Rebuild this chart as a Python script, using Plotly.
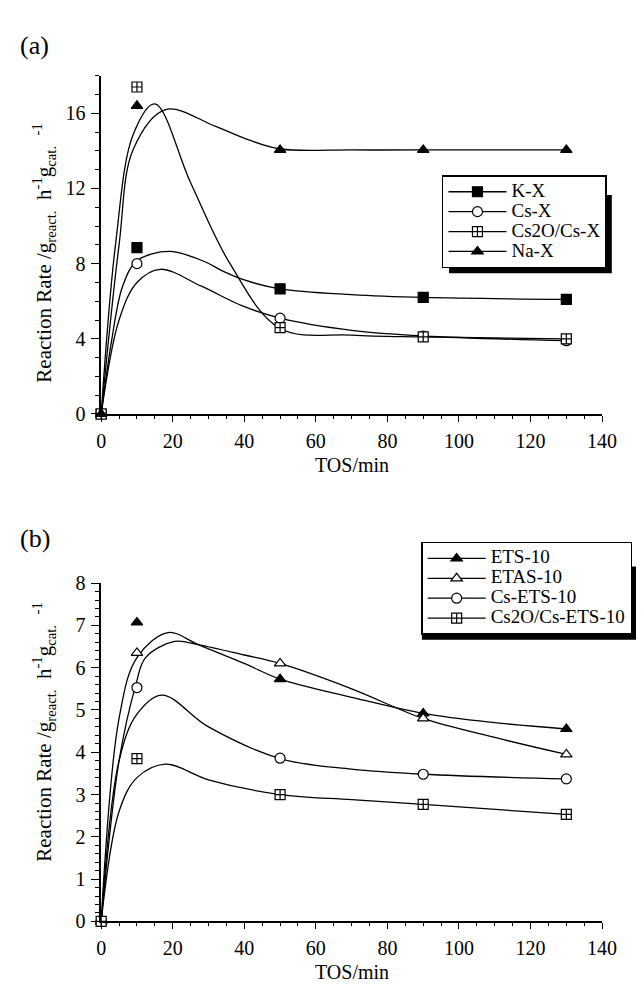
import plotly.graph_objects as go

W, H = 644, 986

# ---------------- data: panel (a) ----------------
tos = [0, 10, 50, 90, 130]
kx = [0, 8.85, 6.66, 6.2, 6.1]
csx = [0, 8.0, 5.1, 4.15, 3.9]
cs2o_csx = [0, 17.4, 4.6, 4.1, 4.0]
nax = [0, 16.4, 14.05, 14.05, 14.05]

# smoothed fit curves (panel a)
kx_fit_x = [0, 3, 6, 10, 19, 29, 34, 40, 50, 70, 90, 130]
kx_fit_y = [0, 4.0, 6.8, 8.15, 8.65, 8.1, 7.6, 7.13, 6.66, 6.35, 6.2, 6.1]
csx_fit_x = [0, 5, 10, 16.5, 28, 39.5, 50, 70, 90, 130]
csx_fit_y = [0, 5.0, 7.0, 7.7, 6.8, 5.75, 5.1, 4.45, 4.15, 3.9]
cs2o_fit_x = [0, 4, 9, 15, 25, 36, 50, 70, 90, 130]
cs2o_fit_y = [0, 9.0, 14.9, 16.5, 12.3, 8.0, 4.55, 4.2, 4.1, 4.0]
nax_fit_x = [0, 5, 9, 18, 32, 41, 50, 70, 90, 130]
nax_fit_y = [0, 9.0, 14.1, 16.2, 15.3, 14.6, 14.1, 14.05, 14.05, 14.05]

# ---------------- data: panel (b) ----------------
ets = [0, 7.07, 5.73, 4.92, 4.55]
etas = [0, 6.35, 6.1, 4.8, 3.95]
cs_ets = [0, 5.53, 3.86, 3.48, 3.37]
cs2o_ets = [0, 3.85, 3.0, 2.77, 2.53]

ets_fit_x = [0, 5, 10, 18.7, 27, 40, 50, 70, 90, 110, 130]
ets_fit_y = [0, 4.8, 6.24, 6.83, 6.55, 6.1, 5.73, 5.3, 4.92, 4.7, 4.55]
etas_fit_x = [0, 5, 9.7, 12.4, 20.5, 27.3, 40, 50, 70, 90, 110, 130]
etas_fit_y = [0, 3.8, 5.6, 6.24, 6.62, 6.54, 6.3, 6.1, 5.5, 4.8, 4.35, 3.95]
cs_ets_fit_x = [0, 5, 10, 17, 30, 50, 70, 90, 130]
cs_ets_fit_y = [0, 3.8, 4.9, 5.35, 4.6, 3.85, 3.6, 3.48, 3.37]
cs2o_ets_fit_x = [0, 5, 10, 18, 30, 50, 70, 90, 130]
cs2o_ets_fit_y = [0, 2.6, 3.4, 3.72, 3.35, 3.0, 2.88, 2.77, 2.53]

# ---------------- tick labels ----------------
x_ticks = [0, 20, 40, 60, 80, 100, 120, 140]
ya_ticks = [0, 4, 8, 12, 16]
yb_ticks = [0, 1, 2, 3, 4, 5, 6, 7, 8]

FONT = "Liberation Serif"
LW = 1.3
LEG_TXT = 19


def px_x(p):
    return p / W


def px_y(p):
    return 1 - p / H


fig = go.Figure()


def marker_style(symbol, filled):
    return dict(symbol=symbol, size=10, color="black" if filled else "white",
                line=dict(color="black", width=1.2))


def add_series(name, xs, ys, fx, fy, symbol, filled, xa, ya, legend):
    fig.add_trace(go.Scatter(x=fx, y=fy, mode="lines",
                             line=dict(color="black", width=LW, shape="spline", smoothing=1.0),
                             showlegend=False, xaxis=xa, yaxis=ya, hoverinfo="skip"))
    fig.add_trace(go.Scatter(x=xs, y=ys, mode="markers", marker=marker_style(symbol, filled),
                             showlegend=False, xaxis=xa, yaxis=ya, cliponaxis=False, name=name))
    fig.add_trace(go.Scatter(x=[None], y=[None], mode="lines+markers",
                             name=f"<span style='font-size:{LEG_TXT}px'>{name}</span>",
                             line=dict(color="black", width=LW), marker=marker_style(symbol, filled),
                             xaxis=xa, yaxis=ya, legend=legend))


add_series("K-X", tos, kx, kx_fit_x, kx_fit_y, "square", True, "x", "y", "legend")
add_series("Cs-X", tos, csx, csx_fit_x, csx_fit_y, "circle", False, "x", "y", "legend")
add_series("Cs2O/Cs-X", tos, cs2o_csx, cs2o_fit_x, cs2o_fit_y, "square-cross", False, "x", "y", "legend")
add_series("Na-X", tos, nax, nax_fit_x, nax_fit_y, "triangle-up", True, "x", "y", "legend")

add_series("ETS-10", tos, ets, ets_fit_x, ets_fit_y, "triangle-up", True, "x2", "y2", "legend2")
add_series("ETAS-10", tos, etas, etas_fit_x, etas_fit_y, "triangle-up", False, "x2", "y2", "legend2")
add_series("Cs-ETS-10", tos, cs_ets, cs_ets_fit_x, cs_ets_fit_y, "circle", False, "x2", "y2", "legend2")
add_series("Cs2O/Cs-ETS-10", tos, cs2o_ets, cs2o_ets_fit_x, cs2o_ets_fit_y, "square-cross", False,
           "x2", "y2", "legend2")

xdom = [px_x(91), px_x(608)]
tickfont = dict(family=FONT, size=20, color="black")

xaxis_common = dict(domain=xdom, range=[0, 140], tickvals=x_ticks, ticktext=[str(v) for v in x_ticks],
                    showline=True, linecolor="black", linewidth=1.5, ticks="outside", ticklen=6, tickwidth=1.3,
                    tickcolor="black", showgrid=False, zeroline=False, tickfont=tickfont, ticklabelstandoff=2,
                    minor=dict(dtick=5, ticks="outside", ticklen=3, tickwidth=1.1, tickcolor="black",
                               showgrid=False))
yaxis_common = dict(showline=True, linecolor="black", linewidth=1.5, ticks="outside", ticklen=8,
                    tickwidth=1.3, tickcolor="black", showgrid=False, zeroline=False, tickfont=tickfont,
                    ticklabelstandoff=2)

legend_common = dict(xanchor="right", yanchor="bottom", bgcolor="white", bordercolor="black", borderwidth=1.5,
                     font=dict(family=FONT, size=13, color="black"), itemwidth=58, tracegroupgap=0)

fig.update_layout(
    width=W, height=H, margin=dict(l=0, r=0, t=0, b=0),
    paper_bgcolor="white", plot_bgcolor="white",
    font=dict(family=FONT, color="black"),
    xaxis=dict(anchor="y", **xaxis_common),
    xaxis2=dict(anchor="y2", **xaxis_common),
    yaxis=dict(domain=[px_y(404), px_y(58)], range=[0, 18], tickvals=ya_ticks,
               ticktext=[str(v) for v in ya_ticks], anchor="x",
               minor=dict(dtick=1, ticks="outside", ticklen=4, tickwidth=1.1, tickcolor="black", showgrid=False),
               **yaxis_common),
    yaxis2=dict(domain=[px_y(923), px_y(577)], range=[0, 8], tickvals=yb_ticks,
                ticktext=[str(v) for v in yb_ticks], anchor="x2",
                minor=dict(dtick=0.2, ticks="outside", ticklen=4, tickwidth=1.1, tickcolor="black",
                           showgrid=False),
                **yaxis_common),
    legend=dict(x=px_x(613), y=px_y(255), **legend_common),
    legend2=dict(x=px_x(639), y=px_y(630), **legend_common),
)

# legend drop shadows (mostly hidden behind the legend boxes)
fig.add_shape(type="rect", xref="paper", yref="paper", x0=px_x(450), x1=px_x(618), y0=px_y(260), y1=px_y(180),
              fillcolor="black", line=dict(width=0), layer="above")
fig.add_shape(type="rect", xref="paper", yref="paper", x0=px_x(422), x1=px_x(644), y0=px_y(635), y1=px_y(560),
              fillcolor="black", line=dict(width=0), layer="above")

ytitle = ("Reaction Rate /g<sub>react.</sub>&nbsp;&nbsp;h<sup>-1</sup>g<sub>cat.</sub>"
          "&nbsp;&nbsp;<sup>-1</sup>")
annos = [
    dict(text="(a)", x=px_x(5), y=px_y(27), xanchor="left", yanchor="middle", font=dict(size=26)),
    dict(text="(b)", x=px_x(5), y=px_y(531), xanchor="left", yanchor="middle", font=dict(size=26)),
    dict(text="TOS/min", x=px_x(350), y=px_y(456), xanchor="center", yanchor="middle", font=dict(size=20)),
    dict(text="TOS/min", x=px_x(350), y=px_y(975), xanchor="center", yanchor="middle", font=dict(size=20)),
    dict(text=ytitle, x=px_x(32), y=px_y(240), textangle=-90, xanchor="center", yanchor="middle",
         font=dict(size=21)),
    dict(text=ytitle, x=px_x(32), y=px_y(730), textangle=-90, xanchor="center", yanchor="middle",
         font=dict(size=21)),
]
for a in annos:
    a.update(xref="paper", yref="paper", showarrow=False)
    a["font"].update(family=FONT, color="black")
    fig.add_annotation(**a)

fig.write_html("out.html")
